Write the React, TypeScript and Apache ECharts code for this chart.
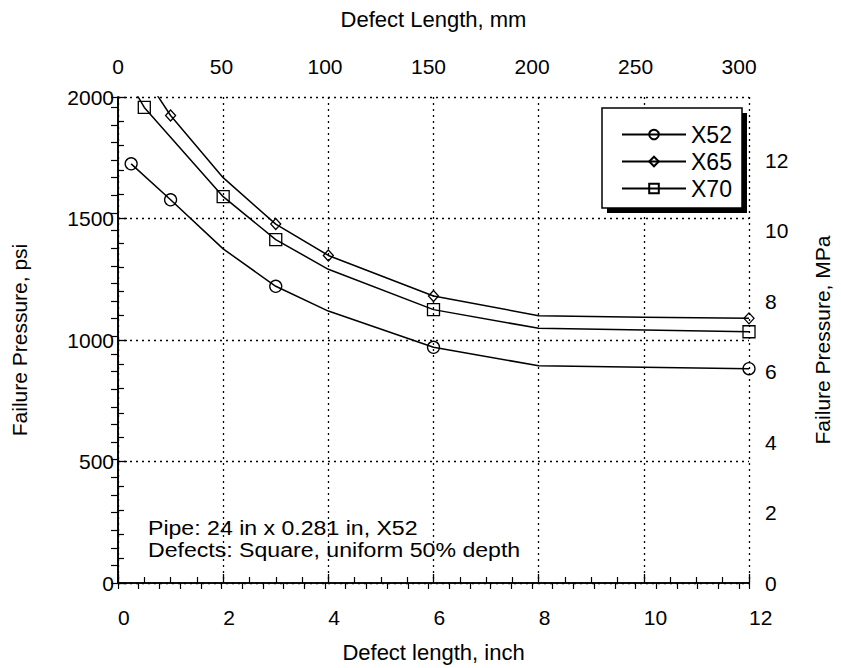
import React, { useEffect, useRef } from "react";
import * as echarts from "echarts";

const FONT = "Liberation Sans, Arial, Helvetica, sans-serif";

// Defect length (inch) and failure pressure (psi)
const inchX52 = [0.25, 1, 2, 3, 4, 6, 8, 10, 12];
const psiX52 = [1725, 1577, 1375, 1221, 1119, 970, 894, 888, 882];
const markX52 = [true, true, false, true, false, true, false, false, true];

const inchX65 = [0.25, 1, 2, 3, 4, 6, 8, 10, 12];
const psiX65 = [2170, 1924, 1668, 1477, 1348, 1181, 1100, 1094, 1089];
const markX65 = [false, true, false, true, true, true, false, false, true];

const inchX70 = [0.25, 0.5, 2, 3, 4, 6, 8, 10, 12];
const psiX70 = [2050, 1957, 1590, 1413, 1291, 1125, 1048, 1041, 1034];
const markX70 = [false, true, true, true, false, true, false, false, true];

const seriesNames = ["X52", "X65", "X70"];
const noteLines = ["Pipe: 24 in x 0.281 in, X52", "Defects: Square, uniform 50% depth"];

const MM_PER_INCH = 25.4;
const MPA_PER_PSI = 0.00689476;
const IN_MAX = 12;
const PSI_MAX = 2000;

function buildData(xs: number[], ys: number[], marks: boolean[]) {
  return xs.map((x, i) =>
    marks[i] ? { value: [x, ys[i]] } : { value: [x, ys[i]], symbol: "none" }
  );
}

export default function App() {
  const ref = useRef<HTMLDivElement>(null);
  useEffect(() => {
    if (!ref.current) return;
    const chart = echarts.init(ref.current, null, { renderer: "svg" });
    const black = "#000";
    const gridLine = { show: true, lineStyle: { color: black, type: [2, 4], width: 1.3 } };
    const axisLine = { show: true, lineStyle: { color: black, width: 1.6 } };
    const tickFont = { fontFamily: FONT, fontSize: 21, color: black };
    const lineSeries = (name: string, data: any[], symbol: string, size: any) => ({
      name,
      type: "line",
      xAxisIndex: 0,
      yAxisIndex: 0,
      data,
      symbol,
      symbolSize: size,
      showAllSymbol: true,
      clip: true,
      lineStyle: { color: black, width: 1.5 },
      itemStyle: { color: "transparent", borderColor: black, borderWidth: 1.3 },
      emphasis: { disabled: true },
    });
    chart.setOption({
      animation: false,
      backgroundColor: "#fff",
      grid: { left: 118, right: 92, top: 97, bottom: 80, containLabel: false },
      xAxis: [
        {
          type: "value",
          position: "bottom",
          min: 0,
          max: IN_MAX,
          interval: 2,
          name: "Defect length, inch",
          nameLocation: "middle",
          nameGap: 58,
          nameTextStyle: { fontFamily: FONT, fontSize: 22, color: black },
          axisLine,
          axisTick: { show: true, inside: true, length: 9, lineStyle: { color: black, width: 1.3 } },
          minorTick: { show: true, splitNumber: 4, length: 6, lineStyle: { color: black, width: 1.2 } },
          axisLabel: { ...tickFont, margin: 24, align: "left", formatter: (v: number) => String(v) },
          splitLine: gridLine,
        },
        {
          type: "value",
          position: "top",
          min: 0,
          max: IN_MAX * MM_PER_INCH,
          interval: 10,
          name: "Defect Length, mm",
          nameLocation: "middle",
          nameGap: 67,
          nameTextStyle: { fontFamily: FONT, fontSize: 22, color: black },
          axisLine,
          axisTick: { show: true, inside: true, length: 6, lineStyle: { color: black, width: 1.2 } },
          axisLabel: {
            ...tickFont,
            margin: 20,
            formatter: (v: number) => (Math.abs(v % 50) < 1e-6 ? String(Math.round(v)) : ""),
          },
          splitLine: { show: false },
        },
      ],
      yAxis: [
        {
          type: "value",
          position: "left",
          min: 0,
          max: PSI_MAX,
          interval: 500,
          name: "Failure Pressure, psi",
          nameLocation: "middle",
          nameGap: 88,
          nameTextStyle: { fontFamily: FONT, fontSize: 21, color: black },
          axisLine,
          axisTick: { show: true, inside: true, length: 9, lineStyle: { color: black, width: 1.3 } },
          minorTick: { show: true, splitNumber: 5, length: 6, lineStyle: { color: black, width: 1.2 } },
          axisLabel: { ...tickFont, margin: 4, formatter: (v: number) => String(v) },
          splitLine: gridLine,
        },
        {
          type: "value",
          position: "right",
          min: 0,
          max: PSI_MAX * MPA_PER_PSI,
          interval: 0.5,
          name: "Failure Pressure, MPa",
          nameLocation: "middle",
          nameGap: 63,
          nameTextStyle: { fontFamily: FONT, fontSize: 21, color: black },
          axisLine,
          axisTick: { show: true, inside: true, length: 7, lineStyle: { color: black, width: 1.2 } },
          axisLabel: {
            ...tickFont,
            margin: 16,
            formatter: (v: number) =>
              Math.abs(v % 2) < 1e-6 && v <= 12 ? String(Math.round(v)) : "",
          },
          splitLine: { show: false },
        },
      ],
      legend: {
        orient: "vertical",
        left: 616,
        top: 118,
        z: 10,
        itemWidth: 64,
        itemHeight: 12,
        itemGap: 4,
        selectedMode: false,
        data: seriesNames,
        textStyle: { fontFamily: FONT, fontSize: 23, lineHeight: 23, color: black },
      },
      graphic: [
        { type: "rect", z: 5, shape: { x: 607, y: 113, width: 140, height: 100 }, style: { fill: black } },
        {
          type: "rect",
          z: 6,
          shape: { x: 602, y: 108, width: 140, height: 100 },
          style: { fill: "#fff", stroke: black, lineWidth: 1.5 },
        },
        {
          type: "text",
          z: 6,
          x: 148,
          y: 528,
          scaleX: 1.1,
          style: { text: noteLines[0], fontFamily: FONT, fontSize: 21, fill: black, verticalAlign: "middle" },
        },
        {
          type: "text",
          z: 6,
          x: 148,
          y: 550,
          scaleX: 1.1,
          style: { text: noteLines[1], fontFamily: FONT, fontSize: 21, fill: black, verticalAlign: "middle" },
        },
      ],
      series: [
        lineSeries(seriesNames[0], buildData(inchX52, psiX52, markX52), "circle", 12),
        lineSeries(seriesNames[1], buildData(inchX65, psiX65, markX65), "diamond", [10, 11]),
        lineSeries(seriesNames[2], buildData(inchX70, psiX70, markX70), "rect", 12),
      ],
    });
    return () => chart.dispose();
  }, []);
  return (
    <div
      ref={ref}
      style={{ position: "absolute", left: 0, top: 0, width: 841, height: 668, background: "#fff" }}
    />
  );
}
